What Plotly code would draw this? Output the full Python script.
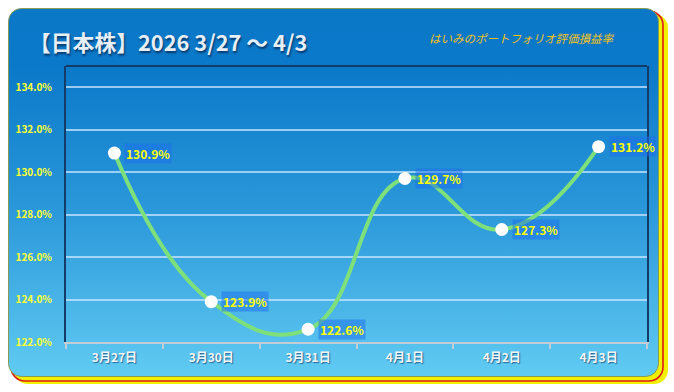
import base64
import plotly.graph_objects as go

# ---- data ----
categories = ["3月27日", "3月30日", "3月31日", "4月1日", "4月2日", "4月3日"]
values = [130.9, 123.9, 122.6, 129.7, 127.3, 131.2]
y_ticks = [122, 124, 126, 128, 130, 132, 134]
y_tick_labels = [f"{v:.1f}%" for v in y_ticks]
title_text = "【日本株】2026 3/27 〜 4/3"
subtitle_text = "はいみのポートフォリオ評価損益率"

FW, FH = 674, 392
ML, MR, MT, MB = 66, 27, 66, 50
PW, PH = FW - ML - MR, FH - MT - MB
FONT = "Noto Sans CJK JP"

svg = f'''<svg xmlns="http://www.w3.org/2000/svg" width="{FW}" height="{FH}" viewBox="0 0 {FW} {FH}">
<defs><linearGradient id="g" x1="0" y1="0" x2="0" y2="1">
<stop offset="0" stop-color="#0a77c7"/><stop offset="0.16" stop-color="#0b79c9"/>
<stop offset="0.55" stop-color="#2b98da"/><stop offset="1" stop-color="#60cbf2"/></linearGradient></defs>
<rect x="14" y="14" width="654" height="370" rx="14" fill="#f0f000"/>
<rect x="11" y="11" width="652" height="370" rx="14" fill="none" stroke="#e01818" stroke-width="1.6"/>
<rect x="8.5" y="8.5" width="650" height="368" rx="13" fill="url(#g)" stroke="#8a9a50" stroke-width="1"/>
</svg>'''
src = "data:image/svg+xml;base64," + base64.b64encode(svg.encode()).decode()

fig = go.Figure()
fig.add_trace(go.Scatter(
    x=categories, y=values, mode="lines+markers",
    line=dict(color="#7ee07a", width=4, shape="spline", smoothing=1.3),
    marker=dict(color="white", size=13, line=dict(width=0)),
    hoverinfo="skip", showlegend=False,
))

for c, v in zip(categories, values):
    fig.add_annotation(
        x=c, y=v, text=f"<b>{v:.1f}%</b>", showarrow=False,
        xanchor="left", yanchor="middle", xshift=10,
        font=dict(family=FONT, size=12, color="#ffff00"),
        bgcolor="rgba(30,110,235,0.5)", borderpad=1,
    )

fig.add_layout_image(dict(
    source=src, xref="paper", yref="paper",
    x=-ML / PW, y=1 + MT / PH, sizex=FW / PW, sizey=FH / PH,
    xanchor="left", yanchor="top", sizing="stretch", layer="below",
))

# top border of plot area
fig.add_shape(type="line", xref="paper", yref="paper", x0=0, x1=1, y0=1, y1=1,
              line=dict(color="#143c68", width=2))

fig.add_annotation(
    xref="paper", yref="paper", x=-(ML - 27) / PW, y=1 + (MT - 41) / PH,
    xanchor="left", yanchor="middle", showarrow=False,
    text=f"<b>{title_text}</b>",
    font=dict(family=FONT, size=21.8, color="#e6eef6", shadow="1px 2px 2px rgba(0,30,70,0.7)"),
)
fig.add_annotation(
    xref="paper", yref="paper", x=(427 - ML) / PW, y=1 + (MT - 38) / PH,
    xanchor="left", yanchor="middle", showarrow=False,
    text=f"<i>{subtitle_text}</i>",
    font=dict(family=FONT, size=11.5, color="#f2c21a"),
)

fig.update_layout(
    width=FW, height=FH,
    margin=dict(l=ML, r=MR, t=MT, b=MB, pad=0, autoexpand=False),
    paper_bgcolor="white", plot_bgcolor="rgba(0,0,0,0)",
    font=dict(family=FONT),
    xaxis=dict(
        type="category", range=[-0.5, len(categories) - 0.5],
        showgrid=False, zeroline=False, automargin=False,
        showline=True, linecolor="#c4ccd6", linewidth=2,
        ticks="outside", tickson="boundaries", ticklen=5, tickcolor="#c4ccd6", tickwidth=1.5,
        ticklabelstandoff=4,
        tickfont=dict(family=FONT, size=12, color="#f4f6f8", weight="bold",
                      shadow="1px 1px 1px rgba(0,40,90,0.6)"),
        fixedrange=True,
    ),
    yaxis=dict(
        range=[122, 135], tickvals=y_ticks, ticktext=y_tick_labels, automargin=False,
        showgrid=True, gridcolor="rgba(200,230,255,0.75)", gridwidth=1.5,
        zeroline=False, showline=True, mirror=True, linecolor="#143c68", linewidth=2,
        ticks="", ticklabelstandoff=10,
        tickfont=dict(family=FONT, size=10, color="#ffff33", weight="bold"),
        fixedrange=True,
    ),
)

fig.write_html("out.html", config={"displayModeBar": False},
               post_script="document.body.style.margin='0';")
